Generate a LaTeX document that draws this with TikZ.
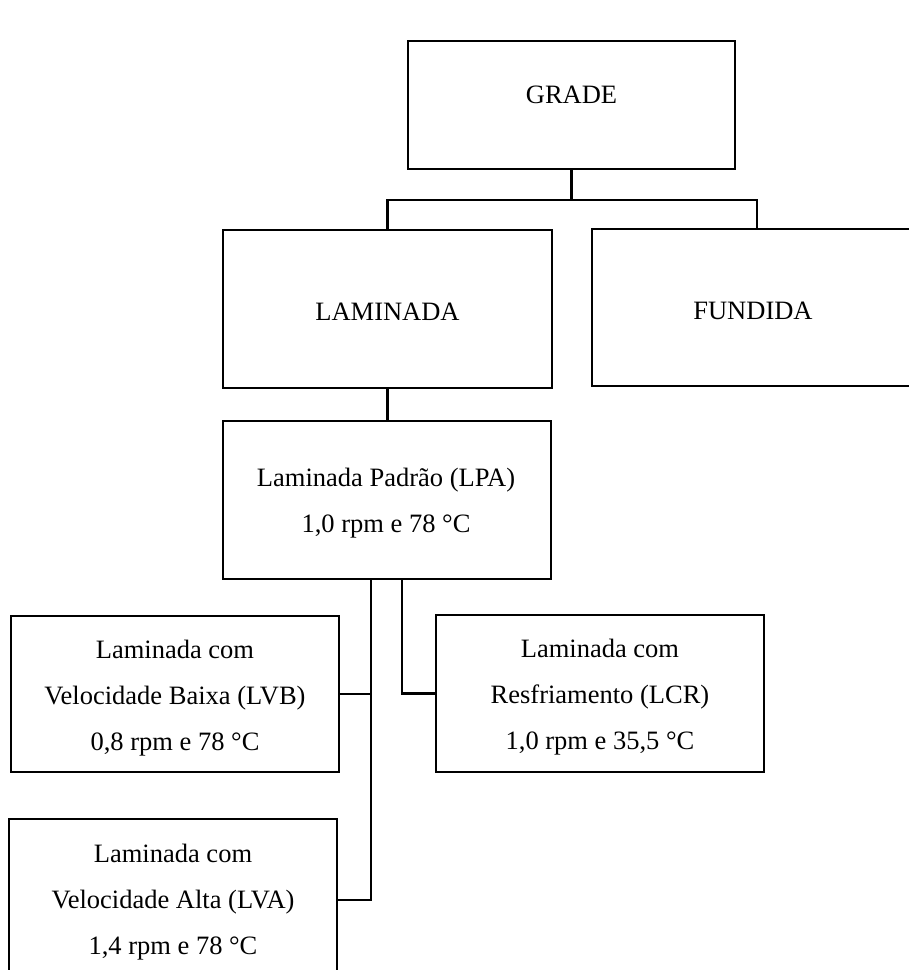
\documentclass[tikz,border=0pt]{standalone}
\usepackage{fontspec}
\setmainfont{Liberation Serif}
\begin{document}
\begin{tikzpicture}[x=1pt,y=-1pt,
  box/.style={draw=black,line width=2.3pt,rectangle,inner sep=0pt},
  txt/.style={inner sep=0pt,align=center,font=\fontsize{26.5}{46}\selectfont},
  conn/.style={draw=black,line width=2.3pt}]
\useasboundingbox (0,0) rectangle (909,970);
\clip (0,0) rectangle (909,970);
\node[box,minimum width=327pt,minimum height=128pt] (grade) at (571.5,105) {};
\node[txt] (gradet) at (571.5,95) {GRADE};
\node[box,minimum width=329pt,minimum height=158pt] (lam) at (387.5,309) {};
\node[txt] (lamt) at (387.5,312) {LAMINADA};
\node[box,minimum width=322pt,minimum height=157pt] (fund) at (753,307.5) {};
\node[txt] (fundt) at (753,310.5) {FUNDIDA};
\node[box,minimum width=328pt,minimum height=158pt] (lpa) at (387,500) {};
\node[txt] (lpat) at (386,503) {Laminada Padrão (LPA)\\1,0 rpm e 78 °C};
\node[box,minimum width=328pt,minimum height=156pt] (lvb) at (175,694) {};
\node[txt] (lvbt) at (175,698) {Laminada com\\Velocidade Baixa (LVB)\\0,8 rpm e 78 °C};
\node[box,minimum width=328pt,minimum height=157pt] (lcr) at (600,693.5) {};
\node[txt] (lcrt) at (600,697.5) {Laminada com\\Resfriamento (LCR)\\1,0 rpm e 35,5 °C};
\node[box,minimum width=328pt,minimum height=162pt] (lva) at (173,900) {};
\node[txt] (lvat) at (173,902) {Laminada com\\Velocidade Alta (LVA)\\1,4 rpm e 78 °C};
% connectors
\coordinate (j1) at ([yshift=-30pt]grade.south);
\draw[conn] (grade.south) -- (j1);
\draw[conn] (lam.north) |- (j1) -| ([xshift=4pt]fund.north);
\draw[conn] (lam.south) -- (lam.south |- lpa.north);
\coordinate (b1) at ([xshift=-16pt]lpa.south);
\coordinate (b2) at ([xshift=15pt]lpa.south);
\draw[conn] (b1) |- (lva.east);
\draw[conn] (lvb.east) -- (lvb.east -| b1);
\draw[conn] (b2) |- (lcr.west);
\end{tikzpicture}
\end{document}
